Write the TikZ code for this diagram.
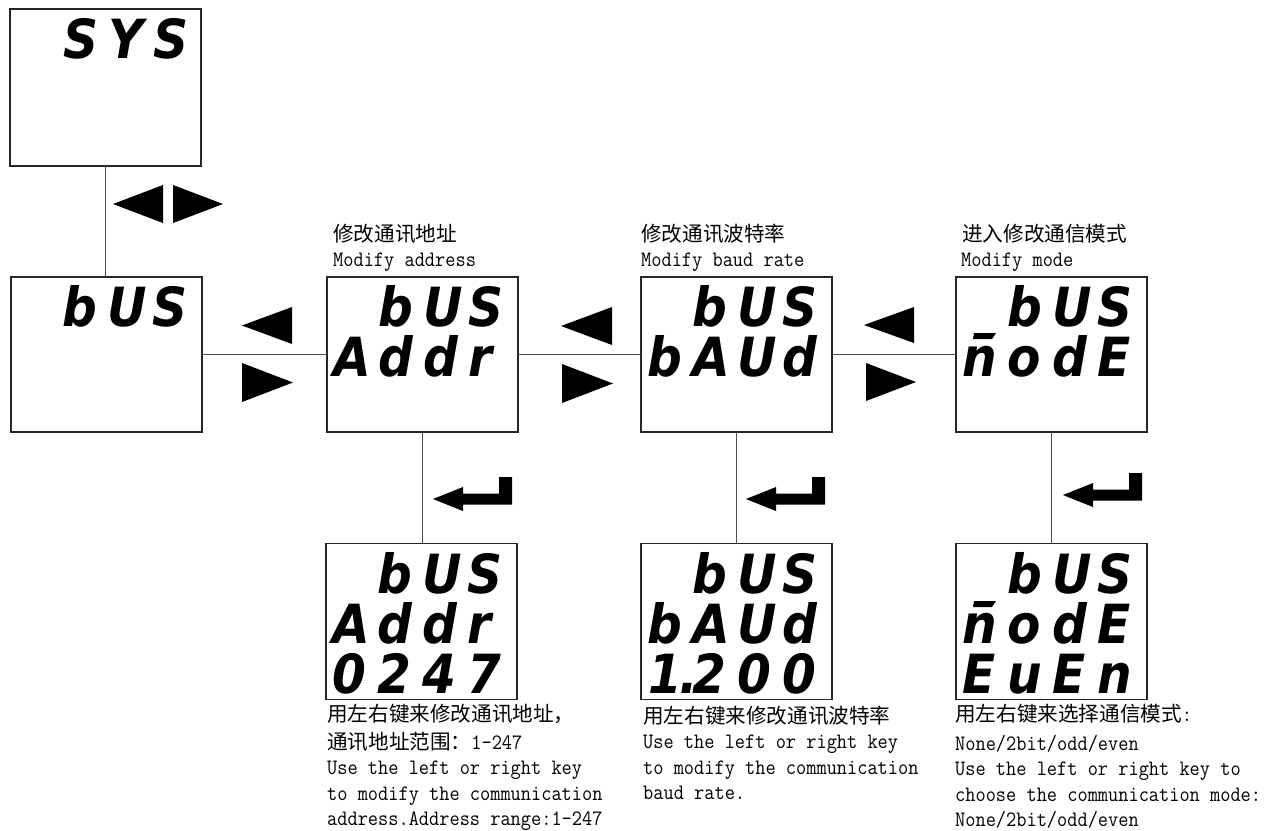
\documentclass[tikz,border=0pt]{standalone}
\usepackage{fontspec}
\newfontfamily\cjk{Noto Sans CJK SC}
\newfontfamily\enf{Latin Modern Mono}[FakeStretch=0.9]
\newfontfamily\segf{DejaVu Sans}[FakeStretch=0.9]
\newcommand\cell[1]{\makebox[45pt][l]{#1}}
\newcommand\cjkfs{\cjk\fontsize{20.6}{20.6}\selectfont}
\tikzset{
 lcd/.style={draw=black!85, line width=1.4pt, minimum width=191pt, minimum height=155pt, inner sep=0pt, outer sep=0pt, anchor=north west},
 conn/.style={draw=black!70, line width=1pt},
 seg/.style={font=\segf\bfseries\itshape\fontsize{54}{54}\selectfont, anchor=base west, inner sep=0pt, text depth=0pt},
 cn/.style={font=\cjkfs, anchor=base west, inner sep=0pt},
 en/.style={font=\enf\fontsize{22}{22}\selectfont, anchor=base west, inner sep=0pt},
 key/.style={fill=black},
}
\newcommand\enterkey[2]{\fill[key] (#1,#2) -- ++(30,-12) -- ++(0,6.5) -- ++(36,0) -- ++(0,-16.5) -- ++(13,0) -- ++(0,27.5) -- ++(-49,0) -- ++(0,6.5) -- cycle;}
\newcommand\mbar[2]{\fill (#1+12,#2) -- ++(22,0) -- ++(-4,6) -- ++(-19,0) -- cycle;}
\begin{document}
\begin{tikzpicture}[x=1pt,y=-1pt]
\useasboundingbox (0,0) rectangle (1277,830);
% boxes
\node[lcd, minimum height=157pt] (sys) at (10,9) {};
\node[lcd] (bus) at (11,277) {};
\node[lcd] (addr) at (327,277) {};
\node[lcd] (baud) at (641,277) {};
\node[lcd] (mode) at (956,277) {};
\node[lcd, minimum height=156pt] (addrv) at (326,543.5) {};
\node[lcd, minimum height=156pt] (baudv) at (641,543.5) {};
\node[lcd, minimum height=156pt] (modev) at (956,543.5) {};
% connectors
\draw[conn] (sys.south) -- (sys.south |- bus.north);
\draw[conn] (bus.east) -- (addr.west);
\draw[conn] (addr.east) -- (baud.west);
\draw[conn] (baud.east) -- (mode.west);
\draw[conn] (addr.south) -- (addr.south |- addrv.north);
\draw[conn] (baud.south) -- (baud.south |- baudv.north);
\draw[conn] (mode.south) -- (mode.south |- modev.north);
% triangles
\fill[key] (113,204) -- (163,185) -- (163,223) -- cycle;
\fill[key] (223,204) -- (173,185) -- (173,223) -- cycle;
\fill[key] (242,325.5) -- (292,307) -- (292,344) -- cycle;
\fill[key] (293,382.5) -- (242,363) -- (242,402) -- cycle;
\fill[key] (561,326) -- (612,307) -- (612,345) -- cycle;
\fill[key] (613,383.5) -- (562,364) -- (562,403) -- cycle;
\fill[key] (864,325) -- (914,307) -- (914,343) -- cycle;
\fill[key] (916,382) -- (866,363) -- (866,401) -- cycle;
% enter keys
\enterkey{433}{499}
\enterkey{746}{499}
\enterkey{1063}{495}
% display texts
\node[seg] (sysA) at (63,58) {\cell{S}\cell{Y}\cell{S}};
\node[seg] (busA) at (62,326) {\cell{b}\cell{U}\cell{S}};
\node[seg] (addrA) at (378,326.5) {\cell{b}\cell{U}\cell{S}};
\node[seg] (addrB) at (333,376) {\cell{A}\cell{d}\cell{d}\cell{r}};
\node[seg] (baudA) at (692,326.5) {\cell{b}\cell{U}\cell{S}};
\node[seg] (baudB) at (647,376) {\cell{b}\cell{A}\cell{U}\cell{d}};
\node[seg] (modeA) at (1007,326.5) {\cell{b}\cell{U}\cell{S}};
\node[seg] (modeB) at (962,376) {\cell{n}\cell{o}\cell{d}\cell{E}};
\mbar{962}{333}
\node[seg] (addrvA) at (377,593) {\cell{b}\cell{U}\cell{S}};
\node[seg] (addrvB) at (332,643) {\cell{A}\cell{d}\cell{d}\cell{r}};
\node[seg] (addrvC) at (332,693) {\cell{0}\cell{2}\cell{4}\cell{7}};
\node[seg] (baudvA) at (692,593) {\cell{b}\cell{U}\cell{S}};
\node[seg] (baudvB) at (647,643) {\cell{b}\cell{A}\cell{U}\cell{d}};
\node[seg] (baudvC) at (647,693) {\cell{\kern1pt 1\kern-3pt.}\cell{2}\cell{0}\cell{0}};
\node[seg] (modevA) at (1007,593) {\cell{b}\cell{U}\cell{S}};
\node[seg] (modevB) at (962,643) {\cell{n}\cell{o}\cell{d}\cell{E}};
\mbar{962}{601}
\node[seg] (modevC) at (962,693) {\cell{E}\cell{u}\cell{E}\cell{n}};
% labels above
\node[cn] (addrL1) at (333,241) {修改通讯地址};
\node[en] (addrL2) at (333,266) {Modify address};
\node[cn] (baudL1) at (641,241) {修改通讯波特率};
\node[en] (baudL2) at (641,266) {Modify baud rate};
\node[cn] (modeL1) at (962,241) {进入修改通信模式};
\node[en] (modeL2) at (961,266) {Modify mode};
% notes below
\node[cn] (addrN1) at (327,721) {用左右键来修改通讯地址，};
\node[en] (addrN2) at (327,749) {{\cjkfs 通讯地址范围：}1-247};
\node[en] (addrN3) at (327,774) {Use the left or right key};
\node[en] (addrN4) at (327,800) {to modify the communication};
\node[en] (addrN5) at (327,825) {address.Address range:1-247};
\node[cn] (baudN1) at (643,723) {用左右键来修改通讯波特率};
\node[en] (baudN2) at (643,748.5) {Use the left or right key};
\node[en] (baudN3) at (643,774) {to modify the communication};
\node[en] (baudN4) at (643,799.5) {baud rate.};
\node[en] (modeN1) at (955,721) {{\cjkfs 用左右键来选择通信模式}:};
\node[en] (modeN2) at (955,750) {None/2bit/odd/even};
\node[en] (modeN3) at (955,775) {Use the left or right key to};
\node[en] (modeN4) at (955,801) {choose the communication mode:};
\node[en] (modeN5) at (955,826) {None/2bit/odd/even};
\end{tikzpicture}
\end{document}
